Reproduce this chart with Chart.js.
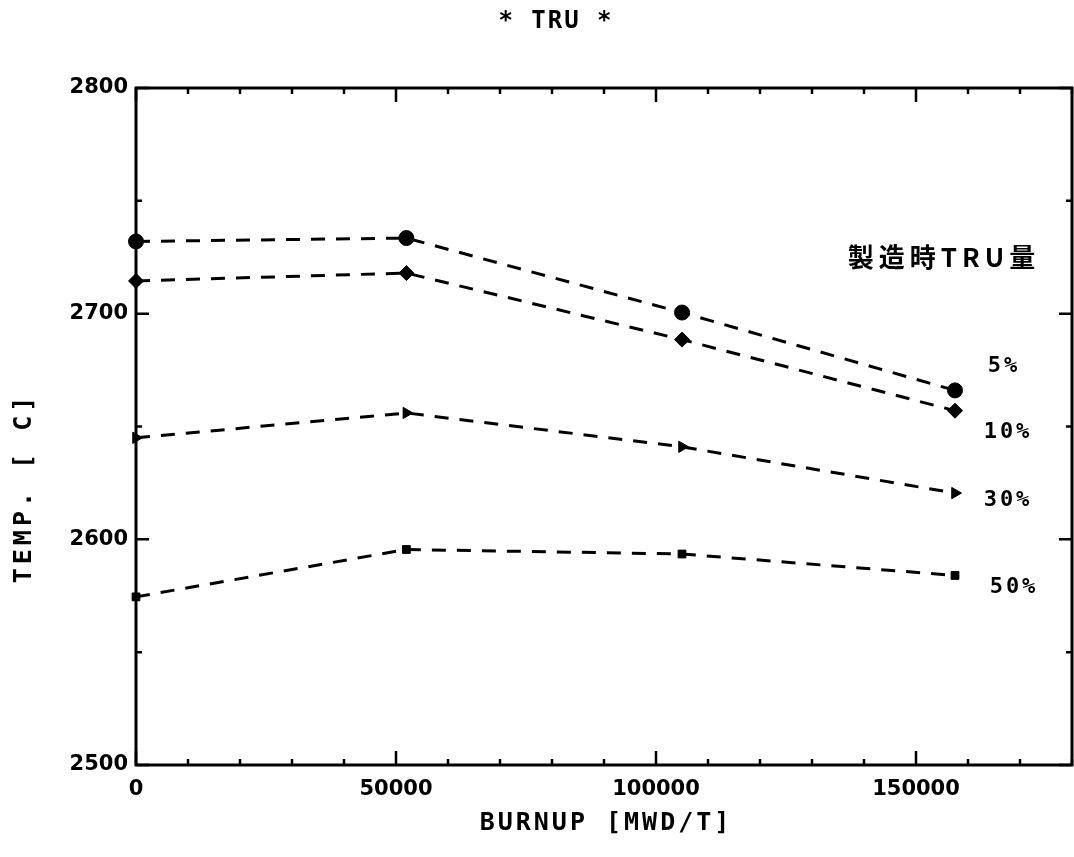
<!DOCTYPE html>
<html>
<head>
<meta charset="utf-8">
<script src="https://cdn.jsdelivr.net/npm/chart.js@4.4.1/dist/chart.umd.min.js"></script>
<style>
  html, body { margin: 0; padding: 0; background: #fff; }
  #wrap { width: 1074px; height: 857px; }
</style>
</head>
<body>
<div id="wrap"><canvas id="c" width="1074" height="857"></canvas></div>
<script>
// ---- data ----
const burnup = [0, 52000, 105000, 157500];
const tru5  = [2732, 2733.5, 2700.5, 2666];
const tru10 = [2714.5, 2718, 2688.5, 2657];
const tru30 = [2645, 2656, 2641, 2620.5];
const tru50 = [2574.5, 2595.5, 2593.5, 2584];
const seriesNames = ['5%', '10%', '30%', '50%'];
const xTicks = [0, 50000, 100000, 150000];
const yTicks = [2500, 2600, 2700, 2800];
const titleText = '* TRU *';
const legendTitle = '製造時TRU量';
const xTitle = 'BURNUP [MWD/T]';
const yTitle = 'TEMP. [ C]';

const toPts = arr => burnup.map((x, i) => ({x: x, y: arr[i]}));

function ds(label, arr, style, radius, rot) {
  return {
    label: label,
    data: toPts(arr),
    borderColor: '#000',
    backgroundColor: '#000',
    borderWidth: 3,
    borderDash: [14, 11],
    pointStyle: style,
    pointRadius: radius,
    pointRotation: rot || 0,
    pointBorderWidth: 1,
    tension: 0,
    clip: false
  };
}

const decor = {
  id: 'decor',
  afterDraw(chart) {
    const ctx = chart.ctx;
    const a = chart.chartArea;
    const xs = chart.scales.x, ys = chart.scales.y;
    ctx.save();
    ctx.strokeStyle = '#000';
    ctx.fillStyle = '#000';
    // frame
    ctx.lineWidth = 3;
    ctx.strokeRect(a.left, a.top, a.right - a.left, a.bottom - a.top);
    // inward ticks
    ctx.lineWidth = 2.5;
    for (let v = xs.min; v <= xs.max; v += 10000) {
      const px = xs.getPixelForValue(v);
      const len = (v % 50000 === 0) ? 14 : 6;
      ctx.beginPath();
      ctx.moveTo(px, a.bottom); ctx.lineTo(px, a.bottom - len);
      ctx.moveTo(px, a.top); ctx.lineTo(px, a.top + len);
      ctx.stroke();
    }
    for (let v = ys.min; v <= ys.max; v += 50) {
      const py = ys.getPixelForValue(v);
      const len = (v % 100 === 0) ? 13 : 6;
      ctx.beginPath();
      ctx.moveTo(a.left, py); ctx.lineTo(a.left + len, py);
      ctx.moveTo(a.right, py); ctx.lineTo(a.right - len, py);
      ctx.stroke();
    }
    // title
    ctx.textAlign = 'center';
    ctx.textBaseline = 'middle';
    ctx.font = 'bold 24px "DejaVu Sans Mono"';
    ctx.letterSpacing = '2px';
    ctx.fillText(titleText, 556, 22);
    // axis titles
    ctx.font = 'bold 25px "DejaVu Sans Mono"';
    ctx.letterSpacing = '3px';
    ctx.fillText(xTitle, 606, 823);
    ctx.save();
    ctx.translate(24, 488);
    ctx.rotate(-Math.PI / 2);
    ctx.letterSpacing = '4px';
    ctx.fillText(yTitle, 0, 0);
    ctx.restore();
    // legend annotations
    ctx.font = 'bold 26px "Noto Sans CJK JP"';
    ctx.letterSpacing = '5px';
    ctx.fillText(legendTitle, 944, 257);
    ctx.font = 'bold 22px "DejaVu Sans Mono"';
    ctx.letterSpacing = '3px';
    const lblPos = [[1004, 366], [1008, 432], [1008, 500], [1014, 587]];
    seriesNames.forEach((n, i) => ctx.fillText(n, lblPos[i][0], lblPos[i][1]));
    ctx.restore();
  }
};

new Chart(document.getElementById('c'), {
  type: 'line',
  data: {
    datasets: [
      ds(seriesNames[0], tru5, 'circle', 7.5),
      ds(seriesNames[1], tru10, 'rectRot', 7.5),
      ds(seriesNames[2], tru30, 'triangle', 6.5, 90),
      ds(seriesNames[3], tru50, 'rect', 5.5)
    ]
  },
  plugins: [decor],
  options: {
    responsive: false,
    animation: false,
    layout: { autoPadding: false, padding: { top: 88, right: 2, left: 0, bottom: 0 } },
    plugins: { legend: { display: false }, tooltip: { enabled: false }, title: { display: false } },
    scales: {
      x: {
        type: 'linear',
        min: 0, max: 180000,
        afterFit(s) { s.height = 92; s.paddingRight = 0; },
        afterBuildTicks(s) { s.ticks = xTicks.map(v => ({value: v})); },
        grid: { display: false, drawTicks: false },
        border: { display: false },
        ticks: {
          color: '#000', padding: 12, maxRotation: 0, autoSkip: false,
          font: { family: 'DejaVu Sans', weight: 'bold', size: 21 },
          callback: v => String(v)
        }
      },
      y: {
        type: 'linear',
        min: 2500, max: 2800,
        afterFit(s) { s.width = 136; },
        afterBuildTicks(s) { s.ticks = yTicks.map(v => ({value: v})); },
        grid: { display: false, drawTicks: false },
        border: { display: false },
        ticks: {
          color: '#000', padding: 8,
          font: { family: 'DejaVu Sans', weight: 'bold', size: 21 },
          callback: v => String(v)
        }
      }
    }
  }
});
</script>
</body>
</html>
